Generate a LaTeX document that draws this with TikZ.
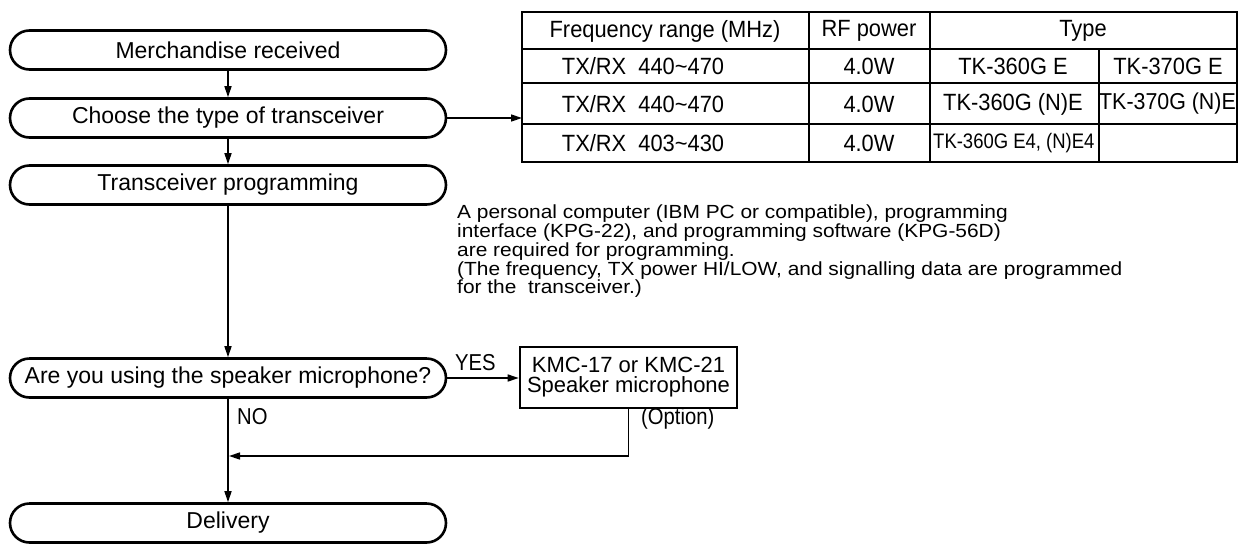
\documentclass[tikz,border=0pt]{standalone}
\usepackage{fontspec}
\setmainfont{Liberation Sans}
\newfontfamily\narrowfont[FakeStretch=0.93]{Liberation Sans}
\newfontfamily\condfont[FakeStretch=0.88]{Liberation Sans}
\newfontfamily\widefont[FakeStretch=1.1]{Liberation Sans}
\usetikzlibrary{arrows.meta}
\tikzset{
  term/.style={draw, line width=2.6pt, rectangle, rounded corners=19.5pt,
    minimum width=436pt, minimum height=39pt, inner sep=0pt, font=\fontsize{23}{25}\selectfont},
  optbox/.style={draw, line width=2.6pt, rectangle, minimum width=217pt, minimum height=61pt,
    inner sep=0pt, align=center, font=\fontsize{22}{20}\selectfont},
  conn/.style={line width=1.5pt},
  arr/.style={conn, -{Triangle[length=11pt,width=7pt]}},
  grid/.style={line width=1.6pt},
  cell/.style={inner sep=0pt, anchor=center, font=\narrowfont\fontsize{23.5}{25}\selectfont},
  lbl/.style={inner sep=0pt, font=\condfont\fontsize{23}{24}\selectfont},
  para/.style={inner sep=0pt, anchor=north west, align=left, font=\widefont\fontsize{19}{17.5}\selectfont}
}
\begin{document}
\begin{tikzpicture}[x=1pt,y=-1pt]
\useasboundingbox (0,0) rectangle (1239,544);
% flow boxes
\node[term] (n1) at (228,50) {Merchandise received};
\node[term] (n2) at (228,118) {Choose the type of transceiver};
\node[term] (n3) at (228,185) {Transceiver programming};
\node[term] (n4) at (228,378) {Are you using the speaker microphone?};
\node[term] (n5) at (228,523) {Delivery};
\node[optbox] (spk) at (628.5,377.5) {KMC-17 or KMC-21\\Speaker microphone};
% table
\coordinate (tl) at (522,12);
\coordinate (br) at (1237,162);
\draw[grid] (tl) rectangle (br);
\draw[grid] (522,49) -- (1237,49);
\draw[grid] (522,83) -- (1237,83);
\draw[grid] (522,124) -- (1237,124);
\draw[grid] (809,12) -- (809,162);
\draw[grid] (930,12) -- (930,162);
\draw[grid] (1099,49) -- (1099,162);
\node[cell] (h1) at (665,31) {Frequency range (MHz)};
\node[cell] (h2) at (869,31) {RF power};
\node[cell] (h3) at (1083,31) {Type};
\node[cell] (r1a) at (643,66.5) {TX/RX\ \ 440\textasciitilde470};
\node[cell] (r1b) at (869,66.5) {4.0W};
\node[cell] (r1c) at (1013,66.5) {TK-360G E};
\node[cell] (r1d) at (1168,66.5) {TK-370G E};
\node[cell] (r2a) at (643,104) {TX/RX\ \ 440\textasciitilde470};
\node[cell] (r2b) at (869,104) {4.0W};
\node[cell] (r2c) at (1013,104) {TK-360G (N)E};
\node[cell, font=\narrowfont\fontsize{23}{25}\selectfont] (r2d) at (1167.5,104) {TK-370G (N)E};
\node[cell] (r3a) at (643,143) {TX/RX\ \ 403\textasciitilde430};
\node[cell] (r3b) at (869,143) {4.0W};
\node[cell, anchor=west, font=\condfont\fontsize{21}{22}\selectfont] (r3c) at (933,143) {TK-360G E4, (N)E4};
% paragraph
\node[para] (txt) at (457,205) {A personal computer (IBM PC or compatible), programming\\
interface (KPG-22), and programming software (KPG-56D)\\
are required for programming.\\
(The frequency, TX power HI/LOW, and signalling data are programmed\\
for the\ \ transceiver.)};
% connectors
\draw[arr] (n1.south) -- (n2.north);
\draw[arr] (n2.south) -- (n3.north);
\draw[arr] (n3.south) -- (n4.north);
\draw[arr] (n4.south) -- (n5.north);
\draw[arr] (n2.east) -- (n2.east -| tl);
\draw[arr] (n4.east) -- (n4.east -| spk.west);
\coordinate (join) at (228,456);
\draw[arr] (spk.south) |- ([xshift=1pt]join);
\node[lbl, anchor=south west] (yes) at (455,371) {YES};
\node[lbl, anchor=west] (no) at (237,417) {NO};
\node[lbl, anchor=west] (opt) at (641,419) {(Option)};
\end{tikzpicture}
\end{document}
